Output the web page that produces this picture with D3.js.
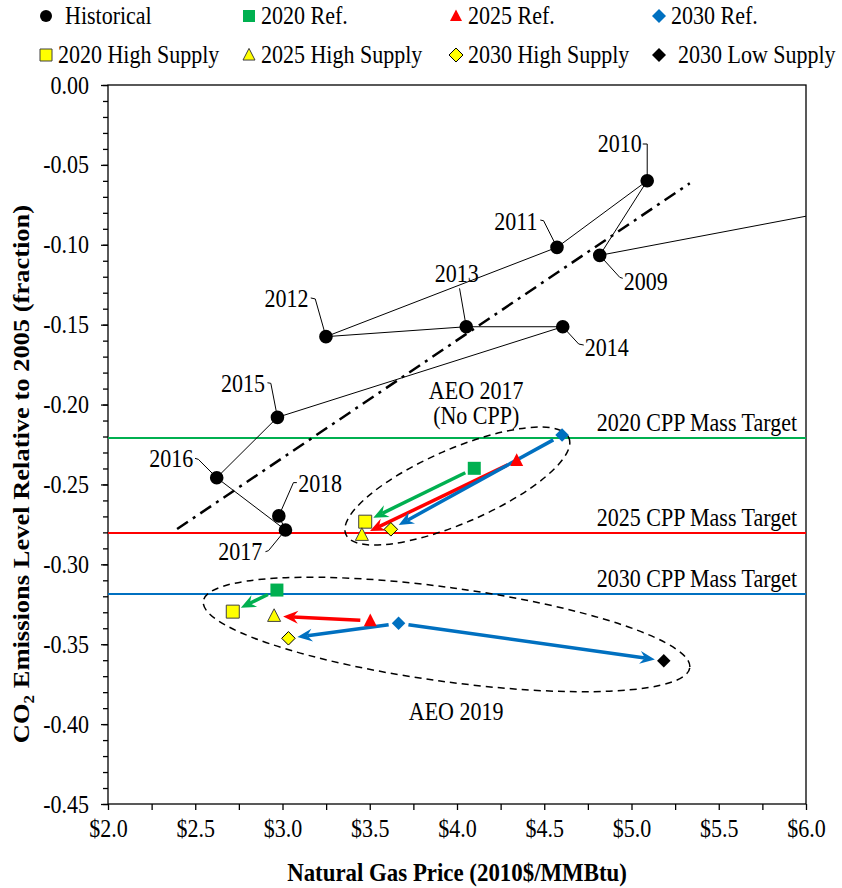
<!DOCTYPE html>
<html>
<head>
<meta charset="utf-8">
<script src="https://cdn.jsdelivr.net/npm/d3@7"></script>
<style>
body { margin: 0; background: #fff; }
text { font-family: "Liberation Serif", "Times New Roman", serif; fill: #000; }
</style>
</head>
<body>
<script>
const width = 842, height = 888;
const sx = 0.88; // the source image is squeezed sideways, text follows it

// historical series (2008 sits off the right edge, only its segment shows)
const histYears = [2008, 2009, 2010, 2011, 2012, 2013, 2014, 2015, 2016, 2017, 2018];
const histPrice = [9.0, 4.818, 5.090, 4.573, 3.249, 4.053, 4.606, 2.971, 2.623, 3.017, 2.979];
const histCo2 = [-0.020, -0.1066, -0.0599, -0.1016, -0.1575, -0.1513, -0.1513, -0.2080, -0.2458, -0.2785, -0.2697];

const aeo17Names = ["2020 Ref.", "2025 Ref.", "2030 Ref.", "2020 High Supply", "2025 High Supply", "2030 High Supply"];
const aeo17Price = [4.099, 4.342, 4.602, 3.474, 3.455, 3.621];
const aeo17Co2 = [-0.2399, -0.2350, -0.2191, -0.2733, -0.2816, -0.2781];

const aeo19Names = ["2020 Ref.", "2025 Ref.", "2030 Ref.", "2020 High Supply", "2025 High Supply", "2030 High Supply", "2030 Low Supply"];
const aeo19Price = [2.968, 3.503, 3.665, 2.715, 2.952, 3.034, 5.185];
const aeo19Co2 = [-0.3161, -0.3353, -0.3369, -0.3296, -0.3323, -0.3463, -0.3603];

const arrowFrom = ["2020 Ref.", "2025 Ref.", "2030 Ref.", "2030 Ref."];
const arrowTo = ["2020 High Supply", "2025 High Supply", "2030 High Supply", "2030 Low Supply"];

const cppNames = ["2020 CPP Mass Target", "2025 CPP Mass Target", "2030 CPP Mass Target"];
const cppLevels = [-0.2209, -0.2804, -0.3186];

const trendPrice = [2.396, 5.334];
const trendCo2 = [-0.2779, -0.0615];

const xTicks = d3.range(0, 17).map(i => 2 + i * 0.25);
const yTicks = d3.range(0, 10).map(i => -i * 0.05);
const yMinor = d3.range(0, 46).map(i => -i / 100);

const legendNames = ["Historical", "2020 Ref.", "2025 Ref.", "2030 Ref.",
  "2020 High Supply", "2025 High Supply", "2030 High Supply", "2030 Low Supply"];

const green = "#00B050", red = "#FF0000", blue = "#0070C0", yellow = "#FFFF00";

const styles = {
  "Historical": {shape: "circle", fill: "#000", stroke: "none"},
  "2020 Ref.": {shape: "square", fill: green, stroke: "none"},
  "2025 Ref.": {shape: "triangle", fill: red, stroke: "none"},
  "2030 Ref.": {shape: "diamond", fill: blue, stroke: "none"},
  "2020 High Supply": {shape: "square", fill: yellow, stroke: "#404040"},
  "2025 High Supply": {shape: "triangle", fill: yellow, stroke: "#404040"},
  "2030 High Supply": {shape: "diamond", fill: yellow, stroke: "#000"},
  "2030 Low Supply": {shape: "diamond", fill: "#000", stroke: "none"}
};
const arrowColor = {"2020": green, "2025": red, "2030": blue};

const x = d3.scaleLinear().domain([2, 6]).range([108, 806]);
const y = d3.scaleLinear().domain([-0.45, 0]).range([804, 85]);

const shapePath = (shape, s) => {
  if (shape === "circle") return d3.symbol(d3.symbolCircle, Math.PI * 6.8 * 6.8)();
  if (shape === "square") return `M${-s/2},${-s/2}h${s}v${s}h${-s}Z`;
  if (shape === "diamond") return `M0,${-s/2}L${s/2},0L0,${s/2}L${-s/2},0Z`;
  return `M0,${-s*0.55}L${s/2},${s*0.42}L${-s/2},${s*0.42}Z`;
};

const drawMarker = (g, name, px, py) => {
  const st = styles[name];
  g.append("path")
    .attr("transform", `translate(${px},${py})`)
    .attr("d", shapePath(st.shape, st.shape === "diamond" ? 13.5 : 13))
    .attr("fill", st.fill)
    .attr("stroke", st.stroke)
    .attr("stroke-width", 1);
};

const svg = d3.select("body").append("svg")
  .attr("width", width)
  .attr("height", height);

const addText = (px, py, str, size, anchor, weight) =>
  svg.append("text")
    .attr("transform", `translate(${px},${py}) scale(${sx},1)`)
    .attr("text-anchor", anchor || "start")
    .attr("font-size", size)
    .attr("font-weight", weight || "normal")
    .text(str);

svg.append("defs").append("clipPath").attr("id", "plotClip")
  .append("rect")
  .attr("x", x(2)).attr("y", y(0))
  .attr("width", x(6) - x(2)).attr("height", y(-0.45) - y(0));

// axes
const xAxis = svg.append("g")
  .attr("transform", `translate(0,${y(-0.45)})`)
  .call(d3.axisBottom(x).tickValues(xTicks).tickSize(6).tickSizeOuter(0)
    .tickFormat(d => Math.abs(d * 2 - Math.round(d * 2)) < 1e-9 ? "$" + d.toFixed(1) : ""));
xAxis.select(".domain").remove();
xAxis.selectAll("line").attr("stroke-width", 1.3);
xAxis.selectAll("text")
  .attr("font-size", 25).attr("font-family", "Liberation Serif")
  .attr("dy", "0.96em")
  .attr("transform", `scale(${sx},1)`);

const yAxis = svg.append("g")
  .attr("transform", `translate(${x(2)},0)`)
  .call(d3.axisLeft(y).tickValues(yMinor).tickSize(5).tickFormat(""));
yAxis.select(".domain").remove();
yAxis.selectAll("line").attr("stroke-width", 1.3);

const yAxisMajor = svg.append("g")
  .attr("transform", `translate(${x(2)},0)`)
  .call(d3.axisLeft(y).tickValues(yTicks).tickSize(7)
    .tickFormat(d => (Math.abs(d) < 1e-9 ? 0 : d).toFixed(2)));
yAxisMajor.select(".domain").remove();
yAxisMajor.selectAll("line").attr("stroke-width", 1.3);
yAxisMajor.selectAll("text")
  .attr("font-size", 25).attr("font-family", "Liberation Serif")
  .attr("x", -19 / sx)
  .attr("transform", `scale(${sx},1)`);

svg.append("rect")
  .attr("x", x(2)).attr("y", y(0))
  .attr("width", x(6) - x(2)).attr("height", y(-0.45) - y(0))
  .attr("fill", "none").attr("stroke", "#000").attr("stroke-width", 1.3);

addText((x(2) + x(6)) / 2, 881, "Natural Gas Price (2010$/MMBtu)", 26, "middle", "bold");

const yTitle = svg.append("text")
  .attr("transform", `translate(29,474) rotate(-90) scale(1,${sx})`)
  .attr("text-anchor", "middle")
  .attr("font-size", 26.5).attr("font-weight", "bold");
yTitle.append("tspan").text("CO");
yTitle.append("tspan").attr("font-size", 17).attr("dy", 6).text("2");
yTitle.append("tspan").attr("dy", -6).text(" Emissions Level Relative to 2005 (fraction)");

// CPP targets
const cppColors = [green, red, blue];
cppLevels.forEach((v, i) => {
  svg.append("line")
    .attr("x1", x(2)).attr("x2", x(6))
    .attr("y1", y(v)).attr("y2", y(v))
    .attr("stroke", cppColors[i]).attr("stroke-width", 2);
  addText(x(6) - 9, y(v) - 7, cppNames[i], 25, "end");
});

// dash-dot trend
svg.append("line")
  .attr("x1", x(trendPrice[0])).attr("y1", y(trendCo2[0]))
  .attr("x2", x(trendPrice[1])).attr("y2", y(trendCo2[1]))
  .attr("stroke", "#000").attr("stroke-width", 2.5)
  .attr("stroke-dasharray", "13,6,3,6");

// scenario ellipses
const ellipses = [
  {cx: 4.002, cy: -0.251, rx: 121.5, ry: 37, rot: -23.4},
  {cx: 3.940, cy: -0.3439, rx: 245.5, ry: 47, rot: 7.8}
];
ellipses.forEach(e => {
  svg.append("ellipse")
    .attr("transform", `translate(${x(e.cx)},${y(e.cy)}) rotate(${e.rot})`)
    .attr("rx", e.rx).attr("ry", e.ry)
    .attr("fill", "none").attr("stroke", "#000").attr("stroke-width", 1.5)
    .attr("stroke-dasharray", "7,5");
});

addText(x(4.11), 399, "AEO 2017", 25, "middle");
addText(x(4.11), 424, "(No CPP)", 25, "middle");
addText(x(3.995), 720, "AEO 2019", 25, "middle");

// historical path
const hist = histYears.map((yr, i) => ({year: yr, price: histPrice[i], co2: histCo2[i]}));
svg.append("path")
  .datum(hist)
  .attr("clip-path", "url(#plotClip)")
  .attr("d", d3.line().x(d => x(d.price)).y(d => y(d.co2)))
  .attr("fill", "none").attr("stroke", "#000").attr("stroke-width", 1);

// year labels: text offset, anchor, leader elbow (px from point)
const yearLabels = {
  2009: {tx: 24, ty: 35, anchor: "start", leader: [[20, 22], [23, 23]]},
  2010: {tx: -5.5, ty: -29, anchor: "end", leader: [[0, -36.7], [-4.5, -36.7]]},
  2011: {tx: -19.5, ty: -17.8, anchor: "end", leader: [[-13.4, -26.6], [-16.7, -27.3]]},
  2012: {tx: -17.5, ty: -30, anchor: "end", leader: [[-10.7, -37.7], [-15.2, -38.7]]},
  2013: {tx: -9.5, ty: -45, anchor: "middle", leader: [[-6.7, -38.4]]},
  2014: {tx: 22, ty: 28.8, anchor: "start", leader: [[16, 17.3], [21, 18.3]]},
  2015: {tx: -12.5, ty: -25.6, anchor: "end", leader: [[-6.6, -34], [-10, -34.6]]},
  2016: {tx: -23.5, ty: -11, anchor: "end", leader: [[-18.4, -18.4], [-21.7, -19.4]]},
  2017: {tx: -23.3, ty: 30.5, anchor: "end", leader: [[-17, 20.7], [-20, 21.7]]},
  2018: {tx: 19.3, ty: -24.3, anchor: "start", leader: [[14.6, -33.3], [18, -33.3]]}
};

const labelled = hist.filter(d => yearLabels[d.year]);
labelled.forEach(d => {
  const lab = yearLabels[d.year];
  const px = x(d.price), py = y(d.co2);
  const pts = [[0, 0]].concat(lab.leader).map(p => [px + p[0], py + p[1]]);
  svg.append("path")
    .attr("d", d3.line()(pts))
    .attr("fill", "none").attr("stroke", "#000").attr("stroke-width", 1);
  addText(px + lab.tx, py + lab.ty, d.year, 25, lab.anchor);
});

// arrows between scenario points
const drawArrow = (p1, p2, color) => {
  const dx = p2[0] - p1[0], dy = p2[1] - p1[1];
  const len = Math.hypot(dx, dy);
  const ux = dx / len, uy = dy / len, nx = -uy, ny = ux;
  const start = [p1[0] + ux * 10, p1[1] + uy * 10];
  const tip = [p2[0] - ux * 9, p2[1] - uy * 9];
  const notch = [tip[0] - ux * 10, tip[1] - uy * 10];
  const back = [tip[0] - ux * 15, tip[1] - uy * 15];
  svg.append("line")
    .attr("x1", start[0]).attr("y1", start[1])
    .attr("x2", notch[0]).attr("y2", notch[1])
    .attr("stroke", color).attr("stroke-width", 3.5);
  svg.append("path")
    .attr("d", `M${tip[0]},${tip[1]}L${back[0] + nx * 6.5},${back[1] + ny * 6.5}L${notch[0]},${notch[1]}L${back[0] - nx * 6.5},${back[1] - ny * 6.5}Z`)
    .attr("fill", color);
};

const scenarios = [
  {names: aeo17Names, price: aeo17Price, co2: aeo17Co2},
  {names: aeo19Names, price: aeo19Price, co2: aeo19Co2}
];
scenarios.forEach(sc => {
  const pos = name => {
    const i = sc.names.indexOf(name);
    return i < 0 ? null : [x(sc.price[i]), y(sc.co2[i])];
  };
  arrowFrom.forEach((from, k) => {
    const a = pos(from), b = pos(arrowTo[k]);
    if (a && b) drawArrow(a, b, arrowColor[from.slice(0, 4)]);
  });
});

labelled.forEach(d => drawMarker(svg, "Historical", x(d.price), y(d.co2)));
scenarios.forEach(sc => {
  sc.names.forEach((name, i) => drawMarker(svg, name, x(sc.price[i]), y(sc.co2[i])));
});

// legend
const legendX = [46, 249, 456, 659];
const legendY = [16, 55];
legendNames.forEach((name, i) => {
  const lx = legendX[i % 4], ly = legendY[Math.floor(i / 4)];
  const st = styles[name];
  svg.append("path")
    .attr("transform", `translate(${lx},${ly})`)
    .attr("d", st.shape === "circle" ? d3.symbol(d3.symbolCircle, Math.PI * 36)() : shapePath(st.shape, st.shape === "diamond" ? 14 : 12))
    .attr("fill", st.fill).attr("stroke", st.stroke).attr("stroke-width", 1);
  const extra = (name === "Historical" || name === "2030 Low Supply") ? 7 : 0;
  addText(lx + 12 + extra, ly + 8, name, 25);
});
</script>
</body>
</html>
